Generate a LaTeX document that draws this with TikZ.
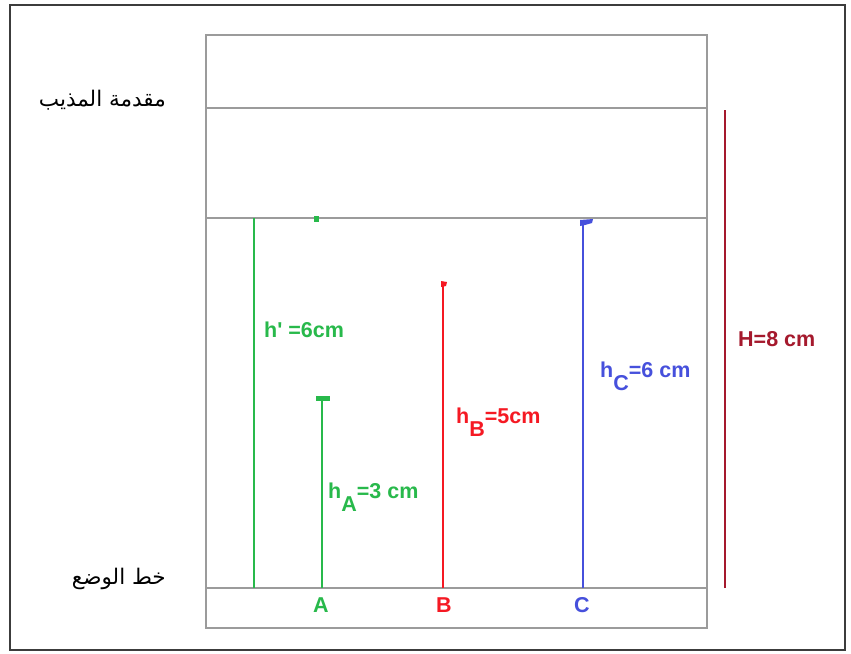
\documentclass[tikz,border=0pt]{standalone}
\usepackage{fontspec}
\setmainfont{Liberation Sans}
\newfontfamily\arabicfont[Script=Arabic]{DejaVu Sans}
\TeXXeTstate=1
\definecolor{cgreen}{RGB}{40,185,75}
\definecolor{cred}{RGB}{245,25,35}
\definecolor{cblue}{RGB}{70,80,220}
\definecolor{cdred}{RGB}{165,25,45}
\definecolor{cgray}{RGB}{155,155,155}
\definecolor{cframe}{RGB}{60,60,60}
\tikzset{
  gline/.style={draw=cgray,line width=1.8pt},
  lbl/.style={font=\fontsize{21.5}{24}\selectfont\bfseries,inner sep=0pt},
  arlbl/.style={font=\arabicfont\fontsize{21.5}{26}\selectfont,inner sep=0pt,anchor=east},
  hbar/.style={line width=2pt}
}
\newcommand{\sbx}[1]{\raisebox{-0.65em}{#1}}
\begin{document}
\begin{tikzpicture}[x=1pt,y=-1pt]
\useasboundingbox (0,0) rectangle (851,653);
\fill[white] (0,0) rectangle (851,653);
\draw[cframe,line width=2.2pt] (10,5) rectangle (845,650);
% container
\coordinate (tl) at (206,35);
\coordinate (br) at (707,628);
\draw[gline] (tl) rectangle (br);
\draw[gline] (206,108) -- (707,108);
\draw[gline] (206,218) -- (707,218);
\draw[gline] (206,588) -- (707,588);
% arabic labels
\node[arlbl] (top) at (166,100) {\beginR مقدمة المذيب\endR};
\node[arlbl] (ref) at (166,579) {\beginR خط الوضع\endR};
% h'
\coordinate (hp0) at (254,588);
\coordinate (hp1) at (254,218);
\draw[cgreen,hbar] (hp0) -- (hp1);
\fill[cgreen] (313.5,215.5) rectangle (318.5,221.5);
\node[lbl,text=cgreen,anchor=base west] (hplab) at (264,337) {h\textquotesingle{} =6cm};
% A
\coordinate (a0) at (322,588);
\coordinate (a1) at (322,398);
\draw[cgreen,hbar] (a0) -- (a1);
\fill[cgreen] (315.5,395.5) rectangle (329.5,400.5);
\node[lbl,text=cgreen,anchor=base west] (alab) at (328,498) {h\sbx{A}=3 cm};
\node[lbl,text=cgreen,anchor=base] (A) at (321,612) {A};
% B
\coordinate (b0) at (443,588);
\coordinate (b1) at (443,284);
\draw[cred,hbar] (b0) -- (b1);
\fill[cred] (441,281) -- (447,282) -- (446,286) -- (441,287) -- cycle;
\node[lbl,text=cred,anchor=base west] (blab) at (456,423) {h\sbx{B}=5cm};
\node[lbl,text=cred,anchor=base] (B) at (444,612) {B};
% C
\coordinate (c0) at (583,588);
\coordinate (c1) at (583,222);
\draw[cblue,hbar] (c0) -- (c1);
\fill[cblue] (580,220) -- (593,219) -- (592,223) -- (585,225) -- (580,226) -- cycle;
\node[lbl,text=cblue,anchor=base west] (clab) at (600,377) {h\sbx{C}=6 cm};
\node[lbl,text=cblue,anchor=base] (C) at (582,612) {C};
% H
\coordinate (H0) at (725,588);
\coordinate (H1) at (725,110);
\draw[cdred,hbar] (H0) -- (H1);
\node[lbl,text=cdred,anchor=base west] (Hlab) at (738,346) {H=8 cm};
\end{tikzpicture}
\end{document}
